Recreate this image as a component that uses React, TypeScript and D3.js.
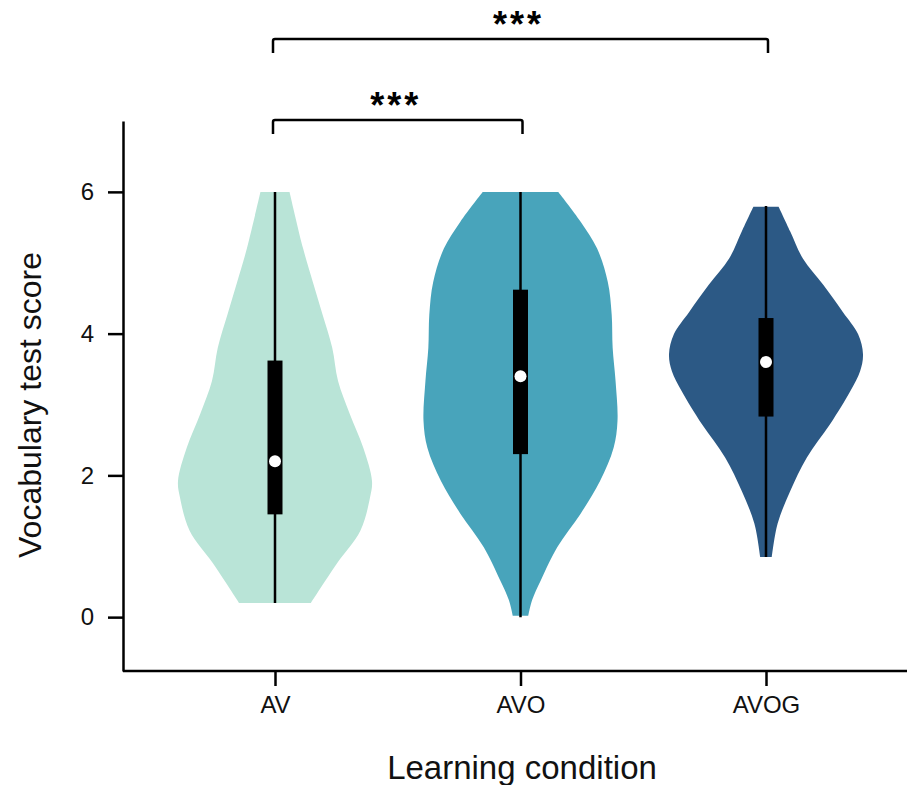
import React, { useRef, useEffect } from "react";
import * as d3 from "d3";

const categories = ["AV", "AVO", "AVOG"];
const colors = ["#b9e4d7", "#48a4bb", "#2c5985"];

// violin outlines: score values and relative density (half width)
const avScores = [6, 5.2, 4.73, 4.27, 3.8, 3.33, 2.87, 2.39, 1.92, 1.69, 1.22, 0.76, 0.2];
const avDensity = [0.15, 0.29, 0.39, 0.49, 0.59, 0.65, 0.77, 0.91, 1.0, 0.98, 0.88, 0.64, 0.37];
const avoScores = [6, 5.58, 5.2, 4.73, 4.27, 3.8, 3.33, 2.77, 2.39, 1.92, 1.46, 0.99, 0.52, 0.24, 0.02];
const avoDensity = [0.39, 0.62, 0.79, 0.9, 0.94, 0.95, 0.98, 1.0, 0.96, 0.82, 0.62, 0.38, 0.21, 0.12, 0.08];
const avogScores = [5.79, 5.44, 5.06, 4.69, 4.31, 3.99, 3.71, 3.47, 3.19, 2.72, 2.25, 1.78, 1.32, 0.85];
const avogDensity = [0.13, 0.25, 0.38, 0.59, 0.79, 0.95, 1.0, 0.97, 0.87, 0.66, 0.42, 0.25, 0.12, 0.06];

// box stats
const mins = [0.2, 0, 0.85];
const q1s = [1.45, 2.3, 2.83];
const medians = [2.2, 3.4, 3.6];
const q3s = [3.62, 4.62, 4.22];
const maxs = [6, 6, 5.8];

const yTicks = [0, 2, 4, 6];

// significance brackets
const brackets = [
  { from: "AV", to: "AVO", label: "***", level: 1 },
  { from: "AV", to: "AVOG", label: "***", level: 2 },
];

const App = () => {
  const svgRef = useRef(null);

  useEffect(() => {
    document.body.style.margin = "0";
    const width = 907;
    const height = 785;
    const svg = d3.select(svgRef.current);
    svg.selectAll("*").remove();
    svg.attr("width", width).attr("height", height);

    const font = "'Liberation Sans', Arial, sans-serif";
    const axisLeftX = 123;
    const axisBottomY = 671;

    const y = d3.scaleLinear().domain([-0.76, 7]).range([axisBottomY, 121]);
    const x = d3.scalePoint().domain(categories).range([275, 766]);
    const w = d3.scaleLinear().domain([0, 1]).range([0, 97]);

    const violins = [
      d3.zip(avScores, avDensity),
      d3.zip(avoScores, avoDensity),
      d3.zip(avogScores, avogDensity),
    ];

    categories.forEach((c, i) => {
      const cx = x(c);
      const area = d3
        .area()
        .y((d) => y(d[0]))
        .x0((d) => cx - w(d[1]))
        .x1((d) => cx + w(d[1]))
        .curve(d3.curveCatmullRom.alpha(0.5));

      svg
        .append("path")
        .datum(violins[i])
        .attr("fill", colors[i])
        .attr("d", area);

      // whisker
      svg
        .append("line")
        .attr("x1", cx)
        .attr("x2", cx)
        .attr("y1", y(mins[i]))
        .attr("y2", y(maxs[i]))
        .attr("stroke", "#000")
        .attr("stroke-width", 2.5);

      // box
      svg
        .append("rect")
        .attr("x", cx - 7.5)
        .attr("width", 15)
        .attr("y", y(q3s[i]))
        .attr("height", y(q1s[i]) - y(q3s[i]))
        .attr("fill", "#000");

      svg
        .append("circle")
        .attr("cx", cx)
        .attr("cy", y(medians[i]))
        .attr("r", 6)
        .attr("fill", "#fff");
    });

    // axes
    const yAxis = svg
      .append("g")
      .attr("transform", `translate(${axisLeftX},0)`)
      .call(d3.axisLeft(y).tickValues(yTicks).tickSize(15).tickPadding(14).tickSizeOuter(0));
    yAxis.select(".domain").attr("stroke-width", 2.5);
    yAxis.selectAll(".tick line").attr("stroke-width", 2.5);
    yAxis
      .selectAll("text")
      .attr("font-family", font)
      .attr("font-size", 24)
      .attr("fill", "#111");

    const xAxis = svg
      .append("g")
      .attr("transform", `translate(0,${axisBottomY})`)
      .call(d3.axisBottom(x).tickSize(15).tickPadding(10).tickSizeOuter(0));
    xAxis.select(".domain").attr("d", `M${axisLeftX},0H${width}`).attr("stroke-width", 2.5);
    xAxis.selectAll(".tick line").attr("stroke-width", 2.5);
    xAxis
      .selectAll("text")
      .attr("font-family", font)
      .attr("font-size", 24)
      .attr("fill", "#111");

    // axis titles
    svg
      .append("text")
      .attr("transform", `translate(41,405) rotate(-90)`)
      .attr("text-anchor", "middle")
      .attr("font-family", font)
      .attr("font-size", 32)
      .attr("fill", "#111")
      .text("Vocabulary test score");

    svg
      .append("text")
      .attr("x", 522)
      .attr("y", 779)
      .attr("text-anchor", "middle")
      .attr("font-family", font)
      .attr("font-size", 33)
      .attr("fill", "#111")
      .text("Learning condition");

    // brackets
    brackets.forEach((b) => {
      const x1 = x(b.from) - 2;
      const x2 = x(b.to) + 2;
      const by = b.level === 1 ? 120 : 39;
      svg
        .append("path")
        .attr("d", `M${x1},${by + 14}V${by + 2}Q${x1},${by} ${x1 + 2},${by}H${x2 - 2}Q${x2},${by} ${x2},${by + 2}V${by + 14}`)
        .attr("fill", "none")
        .attr("stroke", "#000")
        .attr("stroke-width", 2.5);
      svg
        .append("text")
        .attr("x", (x1 + x2) / 2 - 2)
        .attr("y", by - 2)
        .attr("text-anchor", "middle")
        .attr("font-family", font)
        .attr("font-size", 36)
        .attr("font-weight", "bold")
        .attr("letter-spacing", 3)
        .attr("fill", "#000")
        .text(b.label);
    });
  }, []);

  return <svg ref={svgRef} style={{ display: "block" }}></svg>;
};

export default App;
